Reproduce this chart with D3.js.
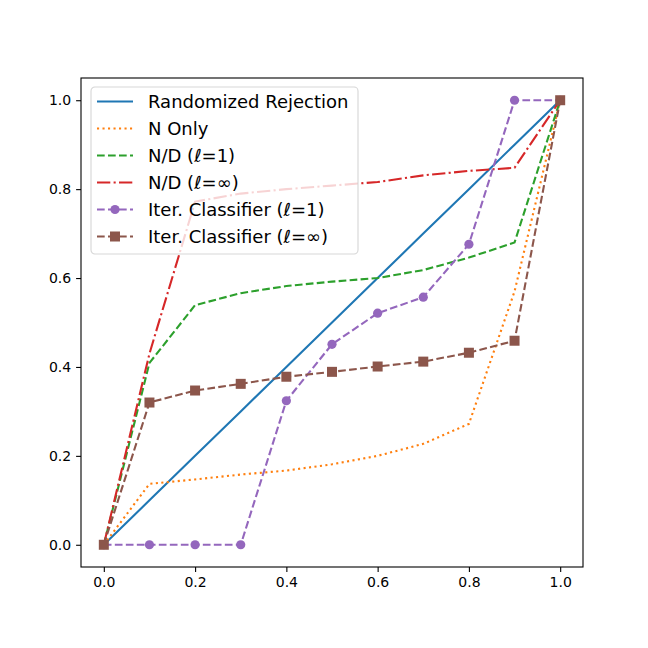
<!DOCTYPE html>
<html>
<head>
<meta charset="utf-8">
<script src="https://cdn.jsdelivr.net/npm/d3@7"></script>
<style>
  body { margin: 0; background: #fff; }
  svg { display: block; font-family: "DejaVu Sans", sans-serif; }
</style>
</head>
<body>
<div id="chart"></div>
<script>
// x positions shared by every series
const xValues = [0, 0.1, 0.2, 0.3, 0.4, 0.5, 0.6, 0.7, 0.8, 0.9, 1.0];

const randomizedRejection = [0, 0.1, 0.2, 0.3, 0.4, 0.5, 0.6, 0.7, 0.8, 0.9, 1.0];
const nOnly = [0, 0.137, 0.147, 0.158, 0.167, 0.181, 0.2, 0.227, 0.272, 0.57, 1.0];
const ndL1 = [0, 0.409, 0.539, 0.566, 0.582, 0.592, 0.6, 0.618, 0.646, 0.68, 1.0];
const ndLinf = [0, 0.43, 0.772, 0.79, 0.8, 0.808, 0.816, 0.831, 0.841, 0.848, 1.0];
const iterL1 = [0, 0, 0, 0, 0.324, 0.451, 0.521, 0.557, 0.676, 1.0, 1.0];
const iterLinf = [0, 0.32, 0.347, 0.362, 0.378, 0.389, 0.401, 0.412, 0.432, 0.459, 1.0];

const xTicks = [0, 0.2, 0.4, 0.6, 0.8, 1.0];
const yTicks = [0, 0.2, 0.4, 0.6, 0.8, 1.0];

const series = [
  { name: "Randomized Rejection", values: randomizedRejection, color: "#1f77b4", dash: null, marker: null },
  { name: "N Only", values: nOnly, color: "#ff7f0e", dash: "2.1,3.4", marker: null },
  { name: "N/D (ℓ=1)", values: ndL1, color: "#2ca02c", dash: "7.7,3.3", marker: null },
  { name: "N/D (ℓ=∞)", values: ndLinf, color: "#d62728", dash: "13.3,3.3,2.1,3.3", marker: null },
  { name: "Iter. Classifier (ℓ=1)", values: iterL1, color: "#9467bd", dash: "7.7,3.3", marker: "circle" },
  { name: "Iter. Classifier (ℓ=∞)", values: iterLinf, color: "#8c564b", dash: "7.7,3.3", marker: "square" }
];

const W = 648, H = 648;
const margin = { top: 78, right: 65, bottom: 81, left: 81 };
const width = W - margin.left - margin.right;
const height = H - margin.top - margin.bottom;

const svgRoot = d3.select("#chart").append("svg")
    .attr("width", W)
    .attr("height", H);

const svg = svgRoot.append("g")
    .attr("transform", `translate(${margin.left},${margin.top})`);

const x = d3.scaleLinear().domain([-0.05, 1.05]).range([0, width]);
const y = d3.scaleLinear().domain([-0.05, 1.05]).range([height, 0]);

const line = d3.line()
    .x((d, i) => x(xValues[i]))
    .y(d => y(d));

function drawMarker(g, type, cx, cy, color) {
  if (type === "circle") {
    g.append("circle").attr("cx", cx).attr("cy", cy).attr("r", 4.6).attr("fill", color);
  } else if (type === "square") {
    g.append("rect").attr("x", cx - 5).attr("y", cy - 5).attr("width", 10).attr("height", 10).attr("fill", color);
  }
}

const plot = svg.append("g");
series.forEach(s => {
  plot.append("path")
      .datum(s.values)
      .attr("d", line)
      .attr("fill", "none")
      .attr("stroke", s.color)
      .attr("stroke-width", 2.1)
      .attr("stroke-dasharray", s.dash);
  if (s.marker) {
    s.values.forEach((v, i) => drawMarker(plot, s.marker, x(xValues[i]), y(v), s.color));
  }
});

// axes
const xAxis = svg.append("g")
    .attr("transform", `translate(0,${height})`)
    .call(d3.axisBottom(x).tickValues(xTicks).tickFormat(d3.format(".1f")).tickSize(4.9).tickPadding(4.9));
const yAxis = svg.append("g")
    .call(d3.axisLeft(y).tickValues(yTicks).tickFormat(d3.format(".1f")).tickSize(4.9).tickPadding(4.9));
[xAxis, yAxis].forEach(a => {
  a.select(".domain").remove();
  a.selectAll(".tick line").attr("stroke", "#000").attr("stroke-width", 1.1);
  a.selectAll(".tick text")
      .style("font-size", "14px")
      .style("font-family", "DejaVu Sans")
      .attr("fill", "#000");
});

svg.append("rect")
    .attr("width", width)
    .attr("height", height)
    .attr("fill", "none")
    .attr("stroke", "#000")
    .attr("stroke-width", 1.1);

// legend
const legend = svg.append("g").attr("transform", `translate(${91 - margin.left},${87 - margin.top})`);
legend.append("rect")
    .attr("width", 267)
    .attr("height", 167)
    .attr("rx", 4)
    .attr("fill", "#fff")
    .attr("fill-opacity", 0.8)
    .attr("stroke", "#cccccc")
    .attr("stroke-opacity", 0.8)
    .attr("stroke-width", 1.1);

series.forEach((s, i) => {
  const ly = 14.5 + i * 27;
  const row = legend.append("g");
  row.append("line")
      .attr("x1", 6).attr("x2", 42)
      .attr("y1", ly).attr("y2", ly)
      .attr("stroke", s.color)
      .attr("stroke-width", 2.1)
      .attr("stroke-dasharray", s.dash);
  if (s.marker) drawMarker(row, s.marker, 24, ly, s.color);
  row.append("text")
      .attr("x", 57)
      .attr("y", ly)
      .attr("dy", "0.35em")
      .style("font-size", "18px")
      .attr("fill", "#000")
      .text(s.name);
});
</script>
</body>
</html>
